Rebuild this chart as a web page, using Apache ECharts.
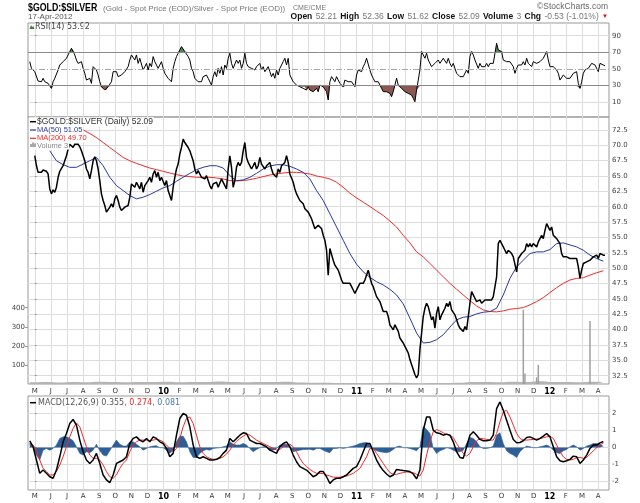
<!DOCTYPE html>
<html lang="en">
<head>
    <meta charset="UTF-8">
    <title>$GOLD:$SILVER</title>
    <script src="https://cdn.jsdelivr.net/npm/echarts@6.0.0/dist/echarts.min.js"></script>
    <style>
        html, body { margin: 0; padding: 0; background: #fff; }
        #main { width: 640px; height: 503px; }
    </style>
</head>
<body>
<div id="main"></div>
<script>
// x unit = months since 1-May-2009, one sample every ~2 trading days
var STEP = 0.1036;
var monthLabels = ['M','J','J','A','S','O','N','D','10','F','M','A','M','J','J','A','S','O','N','D','11','F','M','A','M','J','J','A','S','O','N','D','12','F','M','A'];
var monthTicks = [];
for (var m = 0; m < monthLabels.length; m++) monthTicks.push(m);

var priceTicks = [32.5, 35, 37.5, 40, 42.5, 45, 47.5, 50, 52.5, 55, 57.5, 60, 62.5, 65, 67.5, 70, 72.5];
var rsiLabels = [10, 30, 50, 70, 90];
var macdTicks = [-2, -1, 0, 1, 2];
var volTicks = [100, 200, 300, 400];

// $GOLD:$SILVER close, sample 0 .. 342
var priceStart = 0;
var price = [
    68.3, 66.7, 65.6, 65.33, 65.6, 65.97, 65.87, 65.76, 65.33, 62.9,
    62.09, 62.74, 62.36, 63.17, 64.79, 65.76, 65.97, 66.67, 67.48, 68.29,
    69.37, 70.18, 69.91, 69.64, 70.18, 70.45, 70.18, 69.75, 69.1, 68.29,
    67.48, 66.14, 65.6, 64.52, 65.87, 67.48, 68.13, 67.48, 66.14, 64.25,
    62.09, 61.01, 60.2, 59.12, 58.85, 59.93, 60.47, 59.93, 61.28, 61.82,
    61.01, 59.93, 59.39, 59.66, 59.93, 59.93, 60.2, 61.55, 63.71, 63.98,
    63.17, 63.98, 64.25, 62.9, 63.98, 62.36, 63.44, 63.71, 64.25, 64.79,
    63.98, 65.33, 65.87, 64.79, 65.6, 64.25, 64.79, 65.06, 63.44, 64.25,
    62.63, 61.82, 61.01, 63.17, 64.79, 66.14, 66.94, 68.56, 69.64, 70.99,
    70.45, 70.18, 69.64, 69.1, 68.29, 67.48, 66.14, 65.33, 65.87, 65.33,
    64.79, 65.06, 64.52, 65.06, 64.25, 63.44, 62.9, 63.71, 63.44, 63.98,
    63.17, 63.44, 64.52, 64.25, 63.44, 62.9, 66.14, 68.29, 66.41, 63.17,
    64.25, 66.41, 67.21, 66.67, 67.21, 69.1, 70.45, 68.02, 67.21, 66.94,
    66.14, 66.67, 67.21, 66.14, 66.67, 68.02, 66.94, 66.67, 66.14, 66.67,
    66.94, 67.21, 66.14, 65.33, 65.6, 64.79, 66.14, 65.6, 66.67, 66.94,
    67.21, 68.29, 67.21, 65.33, 65.06, 63.98, 62.9, 62.09, 61.82, 61.01,
    60.74, 60.47, 59.66, 59.39, 59.12, 58.58, 58.04, 57.24, 56.43, 56.43,
    56.97, 57.24, 56.43, 55.35, 54.54, 52.92, 48.87, 53.19, 52.92, 51.3,
    50.49, 50.76, 49.68, 48.87, 48.07, 47.53, 47.8, 47.53, 47.26, 47.53,
    46.99, 46.45, 45.91, 46.18, 46.99, 47.53, 47.8, 47.53, 48.07, 48.87,
    49.68, 48.6, 47.53, 46.99, 46.18, 45.37, 45.1, 44.56, 43.75, 42.94,
    42.67, 42.94, 42.13, 40.78, 40.51, 39.97, 40.78, 41.05, 39.71, 38.63,
    38.36, 37.82, 37.28, 36.74, 36.2, 35.12, 34.31, 33.5, 32.69, 32.15,
    32.69, 36.74, 39.44, 42.13, 43.48, 44.29, 43.75, 42.67, 41.59, 42.13,
    40.24, 42.67, 43.75, 41.59, 42.4, 42.94, 43.48, 44.29, 43.75, 44.56,
    43.21, 43.48, 42.4, 41.59, 40.78, 40.24, 39.97, 39.71, 40.51, 39.97,
    39.71, 44.29, 46.18, 45.64, 45.1, 44.56, 44.29, 44.83, 44.29, 44.56,
    44.83, 44.56, 44.83, 45.1, 44.83, 45.37, 45.1, 48.6, 54.0, 54.54,
    54.0, 53.46, 52.92, 52.38, 52.92, 52.65, 52.38, 51.84, 51.57, 49.41,
    51.57, 51.84, 52.38, 52.11, 52.92, 54.0, 53.46, 54.0, 53.46, 54.0,
    53.73, 53.46, 54.27, 54.0, 55.35, 54.81, 56.16, 57.24, 57.51, 56.16,
    56.7, 55.35, 55.62, 54.81, 55.08, 54.0, 52.38, 51.84, 51.57, 51.84,
    51.84, 51.57, 51.84, 51.57, 51.84, 51.57, 50.22, 48.34, 49.68, 50.76,
    50.76, 51.03, 51.03, 51.3, 51.57, 51.84, 51.84, 52.11, 51.57, 52.38,
    52.65, 52.11, 52.09
];

// moving averages, one value every 4 samples
var maStep = 4;
var ma50Start = 9;
var ma50 = [
    69.1, 67.48, 66.84, 66.41, 66.41, 66.94, 67.48, 68.02, 66.67, 64.79,
    63.44, 62.63, 61.82, 61.28, 61.55, 61.98, 62.52, 63.06, 63.44, 64.14,
    64.79, 65.43, 66.03, 66.41, 66.67, 66.67, 66.3, 65.06, 64.25, 64.36,
    64.79, 65.43, 66.14, 66.62, 66.84, 66.84, 66.57, 66.14, 65.6, 64.52,
    62.63,
    61.01, 58.85, 56.7, 54.54, 52.38, 50.65, 49.41, 48.5, 47.8, 47.26,
    46.56, 45.64, 44.18, 41.86, 39.44, 37.82, 37.93, 38.36, 39.17, 40.41,
    41.59, 42.02, 42.13, 42.56, 42.83, 42.94, 43.48, 45.64, 48.34, 50.22,
    51.3, 52.38, 52.65, 52.65, 53.03, 54.0, 54.11, 53.78, 53.46, 52.92,
    52.11, 51.57, 51.14
];
var ma200Start = 29;
var ma200 = [
    72.5, 71.91, 71.26, 70.45, 69.64, 68.83, 68.02, 67.48, 67.05, 66.67,
    66.3, 66.03, 65.76, 65.49, 65.22, 65.0, 64.9, 64.79, 64.79, 64.79,
    64.68, 64.52, 64.25, 64.19, 64.25, 64.41, 64.63, 64.9, 65.16, 65.33,
    65.49, 65.6, 65.6, 65.49, 65.33, 65.0,
    64.79, 64.52, 63.98, 63.17, 62.2, 61.44, 60.74, 60.04, 59.29, 58.58,
    57.67, 56.7, 55.35, 54.11, 52.65, 51.84, 50.76, 49.68, 48.6, 47.53,
    46.56, 45.64, 44.72, 43.86, 43.21, 42.94, 42.89, 43.05, 43.32, 43.43,
    43.59, 44.02, 44.56, 45.21, 46.02, 46.83, 47.53, 48.07, 48.34, 48.44,
    48.87, 49.25, 49.58
];

// RSI(14), one value per sample from sample -3
var rsiStart = -3;
var rsi = [
    58.8, 50.8, 52.8, 46.8, 44.8, 35.5, 36.7, 34.7, 38.8, 34.7,
    36.7, 32.7, 30.7, 26.7, 34.7, 38.8, 36.7, 48.8, 54.8, 56.8,
    58.8, 60.8, 62.9, 64.9, 70.9, 74.9, 72.9, 66.9, 60.8, 56.8,
    54.8, 58.8, 50.8, 44.8, 36.7, 34.7, 38.8, 32.7, 52.8, 54.8,
    48.8, 42.8, 34.7, 28.7, 26.7, 24.7, 24.7, 28.7, 26.7, 34.7,
    46.8, 48.8, 46.8, 40.8, 38.8, 42.8, 40.8, 46.8, 44.8, 52.8,
    60.8, 66.9, 64.9, 60.8, 66.9, 56.8, 62.9, 60.8, 48.8, 52.8,
    56.8, 48.8, 56.8, 52.8, 64.9, 58.8, 54.8, 50.8, 52.8, 58.8,
    50.8, 44.8, 46.8, 38.8, 36.7, 34.7, 50.8, 58.8, 64.9, 68.9,
    72.9, 76.9, 78.9, 70.9, 70.9, 64.9, 60.8, 50.8, 46.8, 38.8,
    36.7, 34.7, 36.7, 34.7, 40.8, 42.8, 42.8, 38.8, 36.7, 30.7,
    40.8, 46.8, 40.8, 50.8, 44.8, 52.8, 42.8, 54.8, 50.8, 62.9,
    68.9, 56.8, 50.8, 52.8, 60.8, 56.8, 60.8, 50.8, 56.8, 68.9,
    56.8, 52.8, 54.8, 50.8, 48.8, 48.8, 52.8, 52.8, 56.8, 48.8,
    52.8, 46.8, 48.8, 52.8, 46.8, 40.8, 44.8, 38.8, 48.8, 42.8,
    50.8, 52.8, 58.8, 62.9, 54.8, 62.9, 42.8, 40.8, 34.7, 32.7,
    30.7, 30.7, 28.7, 28.7, 26.7, 28.7, 24.7, 28.7, 24.7, 26.7,
    22.7, 20.7, 26.7, 22.7, 30.7,
    30.7, 28.7, 26.7, 22.7, 12.7, 34.7, 40.8, 42.8, 34.7, 40.8,
    38.8, 32.7, 34.7, 28.7, 36.7, 36.7, 34.7, 34.7, 34.7, 32.7,
    28.7, 42.8, 48.8, 50.8, 46.8, 52.8, 56.8, 62.9, 60.8, 48.8,
    42.8, 38.8, 34.7, 32.7, 34.7, 30.7, 26.7, 22.7, 24.7, 22.7,
    20.7, 20.7, 16.7, 22.7, 30.7, 38.8, 30.7, 28.7, 26.7, 24.7,
    22.7, 22.7, 20.7, 18.7, 18.7, 14.7, 10.6, 24.7, 22.7, 48.8,
    70.9, 66.9, 62.9, 68.9, 60.8, 58.8, 52.8, 50.8, 56.8, 58.8,
    60.8, 56.8, 58.8, 62.9, 60.8, 56.8, 62.9, 56.8, 52.8, 56.8,
    50.8, 44.8, 46.8, 40.8, 38.8, 40.8, 38.8, 48.8, 44.8, 64.9,
    70.9, 66.9, 60.8, 58.8, 50.8, 56.8, 52.8, 54.8, 52.8, 56.8,
    52.8, 56.8, 54.8, 56.8, 58.8, 80.9, 72.9, 74.9, 70.9, 60.8,
    58.8, 58.8, 56.8, 58.8, 56.8, 52.8, 44.8, 50.8, 54.8, 52.8,
    54.8, 58.8, 54.8, 62.9, 56.8, 58.8, 52.8, 58.8, 56.8, 56.8,
    54.8, 58.8, 60.8, 62.9, 62.9, 70.9, 60.8, 52.8, 54.8, 52.8,
    50.8, 48.8, 44.8, 36.7, 36.7, 42.8, 42.8, 38.8, 36.7, 38.8,
    40.8, 44.8, 44.8, 46.8, 32.7, 26.7, 34.7, 44.8, 48.8, 48.8,
    50.8, 52.8, 56.8, 58.8, 54.8, 56.8, 46.8, 56.8, 58.8, 54.8,
    53.9
];

// MACD(12,26,9): one value every 2 samples from sample -3
var macdStart = -3, macdStep = 2;
var macd = [
    0.40, 0.05, -0.73, -1.51, -1.32, -1.51, -1.71, -1.80, -1.32, -0.54,
    0.34, 0.83, 1.41, 1.65, 1.32, 0.44, -0.24, -0.73, -0.93, -0.73,
    -0.34, -0.93, -1.61, -1.90, -2.06, -1.61, -0.93, -0.83, -0.73, -0.54,
    0.24, 0.54, 0.63, 0.44, 0.34, 0.54, 0.34, 0.63, 0.54, 0.34,
    0.24, -0.05, -0.54, -0.34, 0.73, 1.71, 2.00, 1.90, 1.22, 0.15,
    -0.54, -0.63, -0.54, -0.63, -0.73, -0.73, -0.69, -0.58, -0.34, -0.15,
    0.54, 0.34, 0.54, 0.73, 0.87, 0.83, 0.44, 0.34, 0.24, 0.24,
    0.15, 0.05, -0.15, -0.24, -0.34, 0.05, 0.24, 0.34, 0.05, -0.44,
    -0.83, -1.12, -1.22, -1.32, -1.51, -1.71, -1.61, -1.41,
    -1.41, -1.71, -2.10, -1.90, -1.80, -1.80, -1.71, -1.61, -1.41, -1.22,
    -1.12, -0.73, -0.24, 0.24, 0.24, -0.24, -0.73, -1.08, -1.35, -1.55,
    -1.71, -1.61, -1.28, -1.32, -1.35, -1.37, -1.41, -1.55, -1.84, -1.32,
    1.02, 1.80, 1.80, 1.02, 0.87, 0.83, 0.73, 0.79, 0.73, 0.34,
    -0.24, -0.58, -0.63, 0.05, 0.73, 0.93, 0.73, 0.48, 0.40, 0.40,
    0.44, 0.73, 2.29, 2.68, 2.19, 1.61, 1.02, 0.48, 0.28, 0.30,
    0.40, 0.59, 0.63, 0.54, 0.44, 0.54, 0.67, 0.83, 0.63, 0.05,
    -0.54, -0.77, -0.83, -0.77, -0.69, -0.50, -0.54, -0.93, -0.73, -0.44,
    -0.05, 0.15, 0.15, 0.28, 0.36
];
var signal = [
    0.20, 0.15, -0.15, -0.73, -1.22, -1.41, -1.61, -1.61, -1.41, -1.02,
    -0.54, 0.05, 0.63, 1.12, 1.45, 1.22, 0.63, 0.05, -0.44, -0.63,
    -0.63, -0.73, -1.02, -1.41, -1.71, -1.80, -1.61, -1.22, -0.93, -0.73,
    -0.24, 0.15, 0.34, 0.44, 0.44, 0.44, 0.40, 0.44, 0.48, 0.44,
    0.34, 0.15, -0.05, -0.24, -0.05, 0.54, 1.22, 1.71, 1.80, 1.41,
    0.73, 0.05, -0.34, -0.54, -0.63, -0.69, -0.69, -0.63, -0.54, -0.38,
    -0.15, 0.15, 0.34, 0.54, 0.67, 0.79, 0.73, 0.59, 0.44, 0.34,
    0.24, 0.15, 0.05, -0.05, -0.15, -0.11, 0.05, 0.15, 0.20, 0.05,
    -0.24, -0.63, -0.93, -1.12, -1.28, -1.41, -1.51, -1.51,
    -1.53, -1.61, -1.67, -1.74, -1.74, -1.74, -1.71, -1.67, -1.59, -1.51,
    -1.37, -1.22, -0.89, -0.54, -0.05, -0.05, -0.34, -0.63, -0.93, -1.22,
    -1.47, -1.57, -1.57, -1.51, -1.47, -1.43, -1.45, -1.47, -1.57, -1.67,
    -1.32, -0.44, 0.34, 0.93, 1.06, 0.98, 0.87, 0.77, 0.73, 0.59,
    0.24, -0.05, -0.34, -0.50, -0.34, 0.05, 0.40, 0.54, 0.52, 0.48,
    0.44, 0.44, 0.83, 1.51, 2.10, 2.19, 1.80, 1.32, 0.83, 0.54,
    0.44, 0.44, 0.46, 0.48, 0.50, 0.52, 0.58, 0.63, 0.67, 0.54,
    0.15, -0.24, -0.54, -0.69, -0.73, -0.69, -0.59, -0.58, -0.63, -0.58,
    -0.38, -0.19, -0.01, 0.15, 0.27
];
var hist = [
    0.28, 0.05, -0.44, -0.73, -0.15, -0.05, -0.15, -0.05, 0.15, 0.54,
    0.63, 0.63, 0.54, 0.40, 0.05, -0.34, -0.44, -0.24, -0.30, -0.15,
    0.20, -0.19, -0.44, -0.50, -0.19, 0.15, 0.44, 0.20, 0.09, 0.09,
    0.34, 0.34, 0.20, 0.05, -0.15, -0.05, 0.05, 0.09, 0.11, -0.01,
    -0.01, -0.15, -0.34, -0.15, 0.34, 0.67, 0.67, 0.34, -0.24, -0.58,
    -0.58, -0.34, -0.19, -0.11, -0.15, -0.05, -0.03, -0.01, 0.05, 0.09,
    0.34, 0.20, 0.15, 0.15, 0.24, 0.15, -0.05, -0.24, -0.11, -0.01,
    0.05, 0.01, -0.15, -0.15, -0.05, 0.15, 0.20, 0.20, -0.01, -0.24,
    -0.19, -0.15, -0.11, -0.11, -0.09, -0.15, -0.05, -0.05,
    -0.15, -0.24, -0.30, -0.05, -0.05, -0.01, -0.05, -0.01, 0.05, 0.09,
    0.15, 0.24, 0.28, 0.30, 0.15, -0.09, -0.19, -0.24, -0.28, -0.30,
    -0.24, -0.11, 0.05, 0.09, -0.01, -0.01, -0.05, -0.11, -0.19, 0.05,
    1.22, 1.06, 0.83, -0.05, -0.34, -0.19, -0.11, -0.01, -0.05, -0.15,
    -0.24, -0.24, -0.15, 0.24, 0.59, 0.54, 0.34, 0.05, -0.05, -0.05,
    -0.01, 0.09, 0.73, 0.87, 0.24, -0.19, -0.34, -0.44, -0.58, -0.24,
    -0.05, 0.09, 0.05, -0.01, -0.01, 0.05, 0.09, 0.15, 0.05, -0.15,
    -0.30, -0.34, -0.19, -0.11, 0.05, 0.15, 0.05, -0.15, -0.05, 0.09,
    0.15, 0.24, 0.24, 0.18, 0.08
];

// volume: thin background level every 8 samples, plus the few spikes
var volStart = -3, volStep = 8;
var volBase = [
    9, 10, 8, 11, 9, 12, 10, 9, 11, 10,
    12, 9, 10, 11, 13, 10, 9, 11, 10, 12,
    8, 7, 6, 5, 5, 4, 5, 6, 5, 4,
    5, 5, 6, 10, 11, 9, 12, 10, 14, 11,
    10, 9, 12, 10
];
var volSpikeAt = [293, 294, 301, 302, 333];
var volSpike = [390, 55, 35, 100, 330];

function pts(arr, start, step) {
    return arr.map(function (v, i) {
        return [+((start + i * step) * STEP).toFixed(4), v];
    });
}

var FONT = 'DejaVu Sans';
var GRID_LINE = '#dcdcdc';

function monthAxis(grid, showLabel, margin) {
    return {
        type: 'value', gridIndex: grid, min: -0.42, max: 35.68,
        axisLine: { show: false },
        axisTick: { show: false, customValues: monthTicks },
        splitLine: { show: true, lineStyle: { color: GRID_LINE, width: 1 } },
        axisLabel: {
            show: showLabel, customValues: monthTicks, margin: margin,
            fontFamily: FONT, fontSize: 7, color: '#333',
            formatter: function (v) {
                var s = monthLabels[Math.round(v)];
                return s.length > 1 ? '{y|' + s + '}' : s;
            },
            rich: { y: { fontFamily: FONT, fontSize: 8, fontWeight: 'bold', color: '#000' } }
        }
    };
}

function rightAxis(grid, min, max, ticks, labels, fmt) {
    return {
        type: 'value', gridIndex: grid, position: 'right', min: min, max: max,
        axisLine: { show: false },
        axisTick: { show: true, length: 2, customValues: ticks, lineStyle: { color: '#999' } },
        splitLine: { show: true, lineStyle: { color: GRID_LINE, width: 1 } },
        axisLabel: {
            customValues: labels, margin: 3, fontFamily: FONT, fontSize: 7, color: '#444',
            formatter: fmt || function (v) { return String(v); }
        }
    };
}

var chart = echarts.init(document.getElementById('main'));

var option = {
    animation: false,
    backgroundColor: '#fff',
    grid: [
        { left: 28, right: 31, top: 23, height: 94, show: true, borderColor: '#999', borderWidth: 1 },
        { left: 28, right: 31, top: 117, height: 267, show: true, borderColor: '#999', borderWidth: 1 },
        { left: 28, right: 31, top: 396, height: 94, show: true, borderColor: '#999', borderWidth: 1 }
    ],
    xAxis: [
        monthAxis(0, false, 0),
        monthAxis(1, true, 4),
        monthAxis(2, true, 3)
    ],
    yAxis: [
        rightAxis(0, -7.7, 105.3, [10, 90], rsiLabels),
        rightAxis(1, 31.15, 74.6, priceTicks, priceTicks, function (v) { return v.toFixed(1); }),
        {
            type: 'value', gridIndex: 1, position: 'left', min: 0, max: 1400,
            axisLine: { show: false },
            axisTick: { show: true, length: 3, customValues: volTicks, lineStyle: { color: '#999' } },
            splitLine: { show: false },
            axisLabel: { customValues: volTicks, margin: 3, fontFamily: FONT, fontSize: 7, color: '#444' }
        },
        rightAxis(2, -2.49, 3.03, macdTicks, macdTicks)
    ],
    series: [
        {
            name: 'rsiLow', type: 'line', xAxisIndex: 0, yAxisIndex: 0, symbol: 'none',
            data: pts(rsi.map(function (v) { return Math.min(v, 30); }), rsiStart, 1),
            lineStyle: { width: 0 }, areaStyle: { color: '#8c5853', opacity: 1, origin: 30 }, z: 2
        },
        {
            name: 'rsiHigh', type: 'line', xAxisIndex: 0, yAxisIndex: 0, symbol: 'none',
            data: pts(rsi.map(function (v) { return Math.max(v, 70); }), rsiStart, 1),
            lineStyle: { width: 0 }, areaStyle: { color: '#4f8a50', opacity: 1, origin: 70 }, z: 2
        },
        {
            name: 'RSI(14)', type: 'line', xAxisIndex: 0, yAxisIndex: 0, symbol: 'none',
            data: pts(rsi, rsiStart, 1),
            lineStyle: { color: '#000', width: 1 }, z: 4,
            markLine: {
                silent: true, symbol: 'none', label: { show: false },
                lineStyle: { color: '#8a8a8a', width: 1, type: 'solid' },
                data: [
                    { yAxis: 30 }, { yAxis: 70 },
                    { yAxis: 50, lineStyle: { color: '#aaa', type: [6, 2, 1, 2] } }
                ]
            }
        },
        {
            name: 'volBase', type: 'line', xAxisIndex: 1, yAxisIndex: 2, symbol: 'none', step: 'middle',
            data: pts(volBase, volStart, volStep),
            lineStyle: { width: 0 }, areaStyle: { color: '#b4b4b4', opacity: 1 }, z: 1
        },
        {
            name: 'Volume', type: 'bar', xAxisIndex: 1, yAxisIndex: 2, barWidth: 1.5,
            data: volSpike.map(function (v, i) { return [+(volSpikeAt[i] * STEP).toFixed(4), v]; }),
            itemStyle: { color: '#a0a0a0' }, z: 1
        },
        {
            name: 'MA(200)', type: 'line', xAxisIndex: 1, yAxisIndex: 1, symbol: 'none',
            data: pts(ma200, ma200Start, maStep),
            lineStyle: { color: '#ee2b2b', width: 1 }, z: 3
        },
        {
            name: 'MA(50)', type: 'line', xAxisIndex: 1, yAxisIndex: 1, symbol: 'none',
            data: pts(ma50, ma50Start, maStep),
            lineStyle: { color: '#27399a', width: 1 }, z: 3
        },
        {
            name: '$GOLD:$SILVER', type: 'line', xAxisIndex: 1, yAxisIndex: 1, symbol: 'none',
            data: pts(price, priceStart, 1),
            lineStyle: { color: '#000', width: 1.5 }, z: 4
        },
        {
            name: 'hist', type: 'line', xAxisIndex: 2, yAxisIndex: 3, symbol: 'none',
            data: pts(hist, macdStart, macdStep),
            lineStyle: { color: '#2d5e96', width: 0.6 }, areaStyle: { color: '#2d5e96', opacity: 1, origin: 0 }, z: 2
        },
        {
            name: 'signal', type: 'line', xAxisIndex: 2, yAxisIndex: 3, symbol: 'none',
            data: pts(signal, macdStart, macdStep),
            lineStyle: { color: '#f02a2a', width: 1 }, z: 3
        },
        {
            name: 'MACD', type: 'line', xAxisIndex: 2, yAxisIndex: 3, symbol: 'none',
            data: pts(macd, macdStart, macdStep),
            lineStyle: { color: '#000', width: 1.5 }, z: 4
        }
    ],
    graphic: [
        // header
        { type: 'text', x: 28, y: 8, scaleX: 0.8, style: { text: '$GOLD:$SILVER', font: 'bold 11px "Liberation Sans"', fill: '#000', textVerticalAlign: 'middle' } },
        { type: 'text', x: 103, y: 8.5, style: { text: '(Gold - Spot Price (EOD)/Silver - Spot Price (EOD))', font: '8px "Liberation Sans"', fill: '#777', textVerticalAlign: 'middle' } },
        { type: 'text', x: 293, y: 8.5, style: { text: 'CME/CME', font: '7px "Liberation Sans"', fill: '#777', textVerticalAlign: 'middle' } },
        { type: 'text', x: 608, y: 7, style: { text: '\u00a9StockCharts.com', font: '8.5px "Liberation Sans"', fill: '#666', textAlign: 'right', textVerticalAlign: 'middle' } },
        { type: 'text', x: 28, y: 16.5, style: { text: '17-Apr-2012', font: '8px "Liberation Sans"', fill: '#555', textVerticalAlign: 'middle' } },
        {
            type: 'text', x: 608, y: 16.5,
            style: {
                text: '{b|Open} {v|52.21} {b|High} {v|52.36} {b|Low} {v|51.62} {b|Close} {v|52.09} {b|Volume} {v|3} {b|Chg} {v|-0.53 (-1.01%)} {r|\u25bc}',
                textAlign: 'right', textVerticalAlign: 'middle',
                rich: {
                    b: { font: 'bold 8.5px "Liberation Sans"', fill: '#111' },
                    v: { font: '8.5px "Liberation Sans"', fill: '#777' },
                    r: { font: '6px "Liberation Sans"', fill: '#d01010' }
                }
            }
        },
        // RSI label
        { type: 'polygon', shape: { points: [[29.5, 29], [31, 25], [32.2, 27.2], [33.2, 25.8], [34.5, 29]] }, style: { fill: '#3f7d3f' } },
        { type: 'text', x: 35, y: 26.5, style: { text: 'RSI(14) 53.92', font: '8px "DejaVu Sans"', fill: '#444', textVerticalAlign: 'middle' } },
        // main legend
        { type: 'text', x: 29, y: 121.7, z: 10, style: { text: '$GOLD:$SILVER (Daily) 52.09', font: '8.5px "Liberation Sans"', fill: '#333', textVerticalAlign: 'middle', backgroundColor: '#fff', padding: [0, 1, 0, 8] } },
        { type: 'line', z: 11, shape: { x1: 30, y1: 121.7, x2: 36, y2: 121.7 }, style: { stroke: '#000', lineWidth: 1.5 } },
        { type: 'text', x: 29, y: 130, z: 10, style: { text: 'MA(50) 51.05', font: '7.5px "Liberation Sans"', fill: '#27399a', textVerticalAlign: 'middle', backgroundColor: '#fff', padding: [0, 1, 0, 8] } },
        { type: 'line', z: 11, shape: { x1: 30, y1: 130, x2: 36, y2: 130 }, style: { stroke: '#27399a', lineWidth: 1.2 } },
        { type: 'text', x: 29, y: 138.3, z: 10, style: { text: 'MA(200) 49.70', font: '7.5px "Liberation Sans"', fill: '#ee2b2b', textVerticalAlign: 'middle', backgroundColor: '#fff', padding: [0, 1, 0, 8] } },
        { type: 'line', z: 11, shape: { x1: 30, y1: 138.3, x2: 36, y2: 138.3 }, style: { stroke: '#ee2b2b', lineWidth: 1.2 } },
        { type: 'text', x: 29, y: 145.5, z: 10, style: { text: 'Volume 3', font: '7.5px "Liberation Sans"', fill: '#888', textVerticalAlign: 'middle', backgroundColor: '#fff', padding: [0, 1, 0, 8] } },
        { type: 'rect', z: 11, shape: { x: 30.5, y: 144, width: 1, height: 3 }, style: { fill: '#555' } },
        { type: 'rect', z: 11, shape: { x: 32.5, y: 142.5, width: 1, height: 4.5 }, style: { fill: '#555' } },
        { type: 'rect', z: 11, shape: { x: 34.5, y: 143.5, width: 1, height: 3.5 }, style: { fill: '#555' } },
        // MACD legend
        { type: 'line', z: 11, shape: { x1: 30, y1: 402.7, x2: 36, y2: 402.7 }, style: { stroke: '#000', lineWidth: 1.5 } },
        {
            type: 'text', x: 38, y: 402.7, z: 10,
            style: {
                text: '{k|MACD(12,26,9) 0.355}{r|, 0.274}{b|, 0.081}',
                textVerticalAlign: 'middle', backgroundColor: '#fff',
                rich: {
                    k: { font: '8px "DejaVu Sans"', fill: '#555' },
                    r: { font: '8px "DejaVu Sans"', fill: '#f02a2a' },
                    b: { font: '8px "DejaVu Sans"', fill: '#4a78b0' }
                }
            }
        }
    ]
};

chart.setOption(option);
</script>
</body>
</html>
